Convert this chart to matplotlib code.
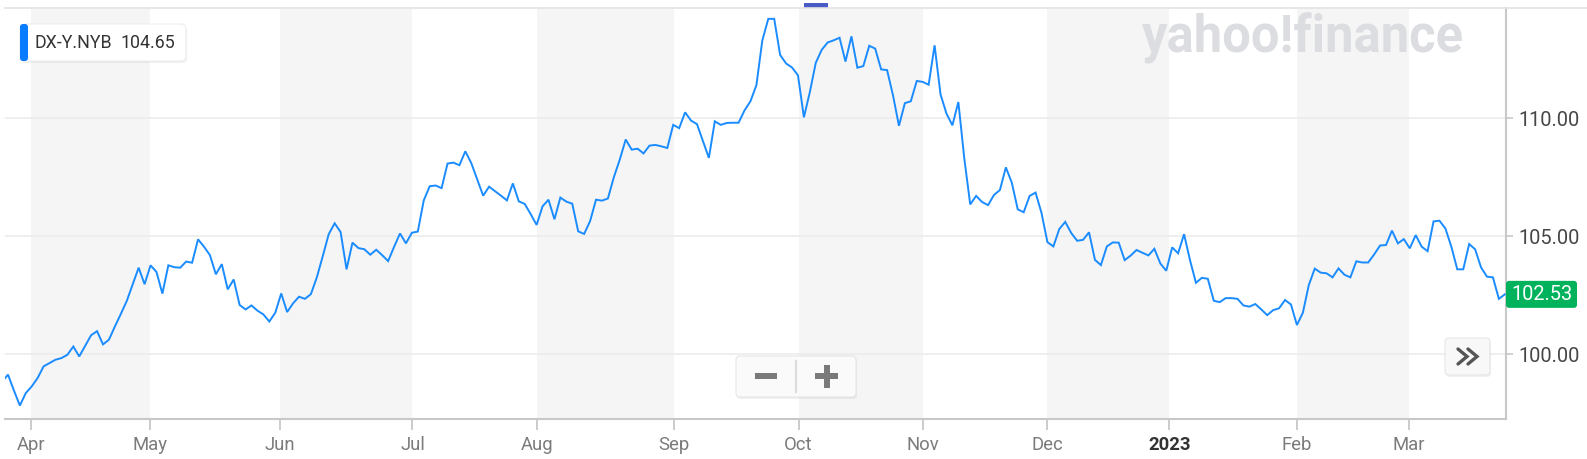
import numpy as np
import matplotlib
matplotlib.use("Agg")
import matplotlib.pyplot as plt
from matplotlib.patches import FancyBboxPatch, Rectangle
from matplotlib.lines import Line2D

plt.rcParams['font.family'] = ['Roboto', 'DejaVu Sans']

# ---------------- data ----------------
symbol = "DX-Y.NYB"
legend_value = "104.65"

values = [
    98.82, 99.13, 98.46, 97.82, 98.35, 98.63, 98.99, 99.48, 99.62, 99.76, 99.83, 99.97,
    100.32, 99.90, 100.35, 100.80, 100.97, 100.41, 100.61, 101.17, 101.70, 102.25, 102.96,
    103.66, 102.96, 103.76, 103.48, 102.56, 103.76, 103.68, 103.66, 103.92,
    103.87, 104.86, 104.55, 104.19, 103.38, 103.81, 102.74, 103.16, 102.08, 101.89, 102.06,
    101.84, 101.68, 101.38, 101.75, 102.57, 101.78, 102.15, 102.43, 102.34, 102.54, 103.25,
    104.15, 105.08, 105.54, 105.17, 103.59, 104.72, 104.49, 104.44, 104.21, 104.42,
    104.19, 103.94, 104.54, 105.11, 104.69, 105.14, 105.19, 106.51, 107.11, 107.14, 107.03,
    108.07, 108.11, 108.00, 108.59, 108.09, 107.40, 106.71, 107.09, 106.90, 106.71, 106.51,
    107.23, 106.47, 106.36, 105.93, 105.47, 106.26, 106.54, 105.71, 106.63,
    106.46, 106.37, 105.20, 105.09, 105.63, 106.54, 106.50, 106.59, 107.49, 108.24, 109.09,
    108.66, 108.70, 108.50, 108.83, 108.86, 108.80, 108.73, 109.71, 109.57, 110.24, 109.89,
    109.74, 109.03, 108.31, 109.86, 109.71, 109.79, 109.80, 109.80, 110.32,
    110.71, 111.39, 113.29, 114.20, 114.20, 112.67, 112.31, 112.14, 111.81, 110.03, 111.10,
    112.34, 112.89, 113.20, 113.29, 113.40, 112.39, 113.46, 112.13, 112.20, 113.06, 112.94,
    112.06, 112.03, 110.96, 109.67, 110.63, 110.71, 111.57, 111.53, 111.41,
    113.08, 111.00, 110.19, 109.69, 110.68, 108.29, 106.34, 106.70, 106.44, 106.31, 106.74,
    106.95, 107.91, 107.26, 106.13, 106.01, 106.70, 106.84, 105.98, 104.74, 104.56, 105.30,
    105.60, 105.13, 104.80, 104.84, 105.16, 103.99, 103.77, 104.56, 104.73,
    104.72, 103.98, 104.17, 104.41, 104.29, 104.18, 104.46, 103.84, 103.53, 104.52, 104.27,
    105.08, 103.98, 103.02, 103.23, 103.19, 102.26, 102.20, 102.37, 102.37, 102.34, 102.06,
    102.01, 102.12, 101.89, 101.65, 101.86, 101.94, 102.29, 102.10, 101.23,
    101.75, 102.92, 103.62, 103.45, 103.42, 103.25, 103.63, 103.36, 103.25, 103.93, 103.88,
    103.88, 104.22, 104.60, 104.62, 105.23, 104.69, 104.87, 104.48, 105.04, 104.55, 104.36,
    105.62, 105.65, 105.32, 104.55, 103.59, 103.59, 104.66, 104.44, 103.67, 103.28, 103.25,
    102.34, 102.53,
]

month_labels = ["Apr", "May", "Jun", "Jul", "Aug", "Sep", "Oct", "Nov", "Dec", "2023", "Feb", "Mar"]
month_pos = [4.9, 24.9, 46.8, 69.1, 90.1, 113.1, 134.1, 155.0, 176.0, 196.5, 218.0, 236.9]
y_ticks = [100, 105, 110]

# ---------------- figure ----------------
W, H = 1587, 459
fig = plt.figure(figsize=(W / 100, H / 100), dpi=100)
fig.patch.set_facecolor("white")

L, R, T, B = 5, 1506, 8, 419
ax = fig.add_axes([L / W, 1 - B / H, (R - L) / W, (B - T) / H])

x = np.arange(len(values))
ax.set_xlim(0.5, 253.2)
ax.set_ylim(97.25, 114.66)

# alternating month shading
for i in range(0, len(month_pos) - 1, 2):
    ax.axvspan(month_pos[i], month_pos[i + 1], color="#f5f5f5", zorder=0, lw=0)

ax.plot(x, values, color="#1a8cff", lw=1.4, zorder=3, solid_joinstyle="miter")

# grid
ax.set_yticks(y_ticks)
ax.set_yticklabels([f"{v:.2f}" for v in y_ticks])
ax.yaxis.grid(True, color="#ebebeb", lw=1.1, zorder=1)
ax.set_axisbelow(True)
ax.yaxis.tick_right()
ax.tick_params(axis="y", direction="out", length=5, width=1.2, color="#c8c8c8",
               labelsize=14.4, labelcolor="#464646", pad=4)

ax.set_xticks(month_pos)
ax.set_xticklabels(month_labels)
ax.tick_params(axis="x", direction="out", length=8, width=1.3, color="#c8c8c8",
               labelsize=13.3, labelcolor="#7b7b7b", pad=4.5)
for lbl in ax.get_xticklabels():
    if lbl.get_text() == "2023":
        lbl.set_fontweight("bold")
        lbl.set_color("#333333")

ax.spines["left"].set_visible(False)
ax.spines["top"].set_visible(False)
ax.spines["bottom"].set_color("#c8c8c8")
ax.spines["bottom"].set_linewidth(1.5)
ax.spines["right"].set_color("#c8c8c8")
ax.spines["right"].set_linewidth(1.5)

# ---------------- overlay in pixel coordinates ----------------
ov = fig.add_axes([0, 0, 1, 1], zorder=10)
ov.set_xlim(0, W)
ov.set_ylim(H, 0)
ov.axis("off")
ov.patch.set_alpha(0)

# top border line
ov.add_line(Line2D([5, W], [8, 8], color="#e3e3e3", lw=1.2))

# small blue marker at top
ov.add_patch(Rectangle((804, 2.5), 24, 5, color="#4a5bc6", lw=0))

# watermark
ov.text(1142, 53, "yahoo!finance", fontsize=36.5, fontweight="bold", color="#dcdde1",
        ha="left", va="baseline")

# legend box
ov.add_patch(FancyBboxPatch((21, 26), 166, 37, boxstyle="round,pad=0,rounding_size=5",
                            fc="#000000", ec="none", alpha=0.06))
ov.add_patch(FancyBboxPatch((20, 24), 166, 37, boxstyle="round,pad=0,rounding_size=5",
                            fc="white", ec="#eeeeee", lw=0.8))
ov.add_patch(FancyBboxPatch((20, 24), 8, 37, boxstyle="round,pad=0,rounding_size=3",
                            fc="#0a7cff", ec="none"))
ov.text(35, 43, symbol, fontsize=12.8, color="#333333", ha="left", va="center")
ov.text(121, 43, legend_value, fontsize=12.8, color="#333333", ha="left", va="center")

# zoom control
ov.add_patch(FancyBboxPatch((737, 358), 120, 41, boxstyle="round,pad=0,rounding_size=4",
                            fc="#000000", ec="none", alpha=0.06))
ov.add_patch(FancyBboxPatch((736, 356), 120, 41, boxstyle="round,pad=0,rounding_size=4",
                            fc="#fafafa", ec="#e6e6e6", lw=0.8))
ov.add_line(Line2D([796, 796], [361, 392], color="#dcdcdc", lw=1.5))
ov.add_patch(Rectangle((755, 373), 22, 6, color="#7a7a7a", lw=0))
ov.add_patch(Rectangle((815, 373), 23, 6, color="#7a7a7a", lw=0))
ov.add_patch(Rectangle((823.5, 365), 6, 23, color="#7a7a7a", lw=0))

# >> button
ov.add_patch(FancyBboxPatch((1446, 340), 45, 37, boxstyle="round,pad=0,rounding_size=4",
                            fc="#000000", ec="none", alpha=0.06))
ov.add_patch(FancyBboxPatch((1445, 338), 45, 37, boxstyle="round,pad=0,rounding_size=4",
                            fc="#f8f8f8", ec="#e6e6e6", lw=0.8))
for dx in (0, 10):
    ov.add_line(Line2D([1458 + dx, 1467 + dx, 1458 + dx], [349, 356.5, 364],
                       color="#555555", lw=2.4, solid_capstyle="round", solid_joinstyle="miter"))

# last price tag
last = values[-1]
_, ylast_disp = ax.transData.transform((0, last))
ylast_px = H - ylast_disp
ov.add_patch(FancyBboxPatch((1506, ylast_px - 13.5), 71, 27,
                            boxstyle="round,pad=0,rounding_size=3", fc="#00b25c", ec="none"))
ov.text(1541.5, ylast_px + 0.5, f"{last:.2f}", fontsize=14.4, color="white",
        ha="center", va="center")

fig.savefig("out.png", dpi=100)
